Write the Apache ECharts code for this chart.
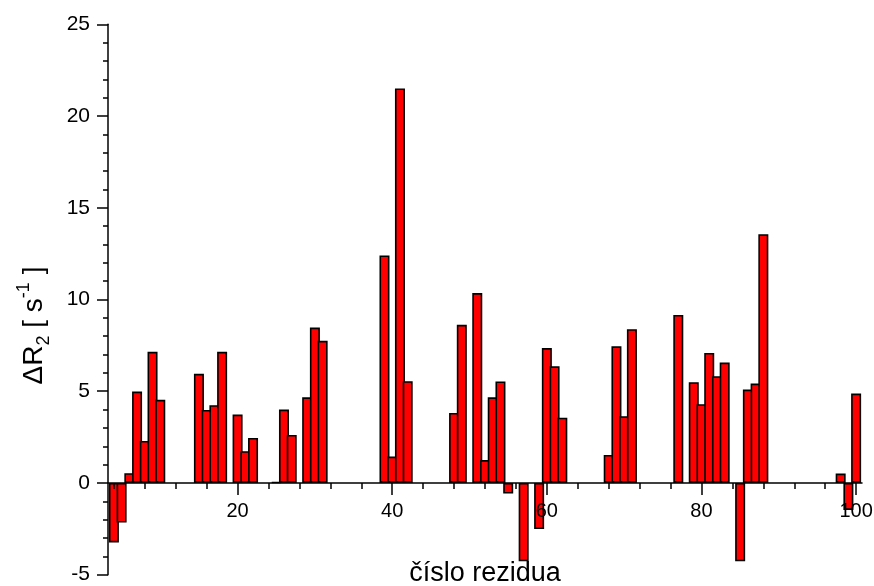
<!DOCTYPE html>
<html>
<head>
<meta charset="utf-8">
<script src="https://cdn.jsdelivr.net/npm/echarts@6/dist/echarts.min.js"></script>
<style>
  html, body { margin: 0; padding: 0; background: #fff; }
  #chart { width: 874px; height: 586px; }
</style>
</head>
<body>
<div id="chart"></div>
<script>
// residue numbers and delta R2 values [s^-1]
var residues = [4, 5, 6, 7, 8, 9, 10, 15, 16, 17, 18, 20, 21, 22, 25, 26, 27, 29, 30, 31,
    39, 40, 41, 42, 48, 49, 51, 52, 53, 54, 55, 57, 59, 60, 61, 62, 68, 69, 70, 71,
    77, 79, 80, 81, 82, 83, 85, 86, 87, 88, 98, 99, 100];
var dR2 = [-3.24, -2.16, 0.53, 4.98, 2.29, 7.15, 4.53, 5.95, 3.98, 4.24, 7.15, 3.73, 1.73, 2.45, 0.05, 4.0, 2.62, 4.67, 8.47, 7.75,
    12.4, 1.44, 21.5, 5.55, 3.82, 8.62, 10.35, 1.25, 4.67, 5.53, -0.58, -4.27, -2.51, 7.35, 6.36, 3.56, 1.53, 7.45, 3.64, 8.38,
    9.16, 5.49, 4.29, 7.09, 5.82, 6.56, -4.27, 5.09, 5.42, 13.56, 0.51, -1.47, 4.87];

// axis ranges / ticks
var xRange = [3.24, 100.76];
var xMinorStep = 4;      // minor ticks every 4 residues
var xMajorStep = 20;     // labels 20, 40 ... 100
var xTickRange = [4, 100];
var xLabelRange = [20, 100];
var yRange = [-5, 25];
var yStep = 5;

// layout (px)
var W = 874, H = 586;
var plotLeft = 108, plotRight = 862, plotTop = 24.3, plotBottom = 574.7, zeroY = 483;
var FONT = 'Liberation Sans, Arial, sans-serif';

function px (v) {
    return plotLeft + (v - xRange[0]) * (plotRight - plotLeft) / (xRange[1] - xRange[0]);
}

var barData = residues.map(function (r, i) { return [r, dR2[i]]; });

var tickStyle = { color: '#000', width: 1.5 };

var option = {
    animation: false,
    backgroundColor: '#fff',
    grid: [
        { left: plotLeft, right: W - plotRight, top: plotTop, bottom: H - plotBottom, outerBoundsMode: 'none', containLabel: false },
        { left: px(xTickRange[0]), right: W - px(xTickRange[1]), top: plotTop, bottom: H - zeroY, outerBoundsMode: 'none', containLabel: false },
        { left: px(xLabelRange[0]), right: W - px(xLabelRange[1]), top: plotTop, bottom: H - zeroY, outerBoundsMode: 'none', containLabel: false }
    ],
    xAxis: [
        {
            gridIndex: 0, type: 'value', min: xRange[0], max: xRange[1],
            axisLine: { show: true, onZero: true, lineStyle: tickStyle },
            axisTick: { show: false }, axisLabel: { show: false }, splitLine: { show: false }
        },
        {
            // minor ticks + axis title
            gridIndex: 1, type: 'value', min: xTickRange[0], max: xTickRange[1], interval: xMinorStep,
            z: 5,
            axisLine: { show: false, onZero: false },
            axisTick: { show: true, length: 6, lineStyle: tickStyle },
            axisLabel: { show: false }, splitLine: { show: false },
            name: 'číslo rezidua', nameLocation: 'middle', nameGap: 77,
            nameTextStyle: { fontSize: 27, color: '#000', fontFamily: FONT }
        },
        {
            // major ticks + labels
            gridIndex: 2, type: 'value', min: xLabelRange[0], max: xLabelRange[1], interval: xMajorStep,
            z: 5,
            axisLine: { show: false, onZero: false },
            axisTick: { show: true, length: 12, lineStyle: tickStyle },
            axisLabel: { show: true, fontSize: 20, color: '#000', margin: 18, fontFamily: FONT },
            splitLine: { show: false }
        }
    ],
    yAxis: [
        {
            gridIndex: 0, type: 'value', min: yRange[0], max: yRange[1], interval: yStep,
            axisLine: { show: true, onZero: false, lineStyle: tickStyle },
            axisTick: { show: true, length: 11, lineStyle: tickStyle },
            minorTick: { show: true, splitNumber: 5, length: 5, lineStyle: tickStyle },
            splitLine: { show: false }, minorSplitLine: { show: false },
            axisLabel: { fontSize: 21, color: '#000', margin: 18, fontFamily: FONT },
            name: '{a|ΔR}{sub|2}{a| [ s}{sup|-1}{a| ]}',
            nameLocation: 'middle', nameRotate: 90, nameGap: 55,
            nameTextStyle: {
                padding: [0, 52, 0, 0],
                rich: {
                    a: { fontSize: 28, color: '#000', fontFamily: FONT, lineHeight: 38 },
                    sub: { fontSize: 18, color: '#000', fontFamily: FONT, verticalAlign: 'bottom', lineHeight: 19 },
                    sup: { fontSize: 18, color: '#000', fontFamily: FONT, verticalAlign: 'top', lineHeight: 19 }
                }
            }
        },
        { gridIndex: 1, type: 'value', min: 0, max: 1, show: false },
        { gridIndex: 2, type: 'value', min: 0, max: 1, show: false }
    ],
    series: [
        {
            type: 'bar',
            xAxisIndex: 0, yAxisIndex: 0,
            data: barData,
            barWidth: 10,
            itemStyle: { color: '#ff0000', borderColor: '#000', borderWidth: 1.6 }
        }
    ]
};

var chart = echarts.init(document.getElementById('chart'));
chart.setOption(option);
</script>
</body>
</html>
